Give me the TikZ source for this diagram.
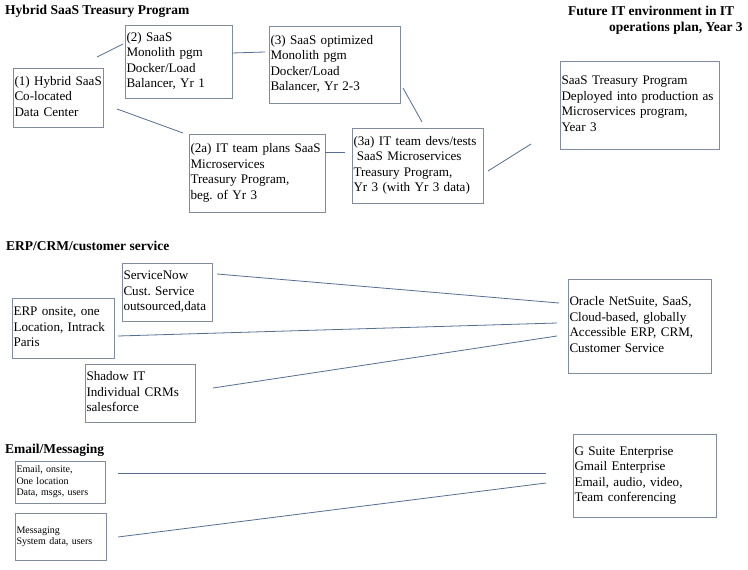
\documentclass[tikz,border=0pt]{standalone}
\usepackage{fontspec}
\setmainfont{Liberation Serif}
\definecolor{boxline}{RGB}{128,140,155}
\definecolor{conn}{RGB}{85,110,145}
\frenchspacing
\begin{document}
\begin{tikzpicture}[x=1pt,y=-1pt,
  box/.style={draw=boxline,line width=0.9pt,fill=white,inner xsep=1.5pt,inner ysep=0pt,
    align=left,font=\fontsize{13.1}{15.5}\selectfont},
  smallbox/.style={box,font=\fontsize{10}{11.5}\selectfont},
  ttl/.style={anchor=base west,inner sep=0pt,font=\fontsize{13.5}{15.5}\selectfont\bfseries},
  link/.style={draw=conn,line width=0.8pt}]
\useasboundingbox[fill=white] (0,0) rectangle (748,570);
\newcommand{\lines}[1]{\begin{tabular}{@{}l@{}}#1\end{tabular}}
\renewcommand{\arraystretch}{1}
% titles
\node[ttl] (tHyb) at (5,15) {Hybrid SaaS Treasury Program};
\node[ttl] (tFut1) at (568,15.5) {Future IT environment in IT};
\node[ttl] (tFut2) at (609,31.5) {operations plan, Year 3};
\node[ttl] (tERP) at (6,250.5) {ERP/CRM/customer service};
\node[ttl] (tEm) at (5,453.5) {Email/Messaging};
% treasury boxes
\node[box,text width=87pt,minimum height=59pt] (b1) at (58,97.5) {\lines{(1) Hybrid SaaS\\Co-located\\Data Center}};
\node[box,text width=104pt,minimum height=73pt] (b2) at (178.5,61.5) {\lines{(2) SaaS\\Monolith pgm\\Docker/Load\\Balancer, Yr 1}};
\node[box,text width=128pt,minimum height=77pt] (b3) at (334.5,64.5) {\lines{(3) SaaS optimized\\Monolith pgm\\Docker/Load\\Balancer, Yr 2-3}};
\node[box,text width=133pt,minimum height=78pt] (b2a) at (257,173) {\lines{(2a) IT team plans SaaS\\Microservices\\Treasury Program,\\beg. of Yr 3}};
\node[box,text width=128pt,minimum height=75pt] (b3a) at (417.5,165.5) {\lines{(3a) IT team devs/tests\\\hspace*{3.3pt}SaaS Microservices\\Treasury Program,\\Yr 3 (with Yr 3 data)}};
\node[box,text width=156pt,minimum height=88pt] (bT) at (639.5,105) {\lines{SaaS Treasury Program\\Deployed into production as\\Microservices program,\\Year 3}};
% ERP boxes
\node[box,text width=87pt,minimum height=58pt] (bSN) at (167,292) {\lines{ServiceNow\\Cust. Service\\outsourced,data}};
\node[box,text width=99pt,minimum height=60pt] (bERP) at (63,328) {\lines{ERP onsite, one\\Location, Intrack\\Paris}};
\node[box,text width=107pt,minimum height=58pt] (bSh) at (140,393) {\lines{Shadow IT\\Individual CRMs\\salesforce}};
\node[box,text width=140pt,minimum height=94pt] (bOr) at (639.5,326) {\lines{Oracle NetSuite, SaaS,\\Cloud-based, globally\\Accessible ERP, CRM,\\Customer Service}};
% Email boxes
\node[smallbox,text width=87pt,minimum height=42pt] (bEm) at (60,482) {\lines{Email, onsite,\\One location\\Data, msgs, users}};
\node[smallbox,text width=88pt,minimum height=47pt] (bMs) at (60.5,536.5) {\lines{Messaging\\System data, users}};
\node[box,text width=140pt,minimum height=83pt] (bG) at (644.5,475.5) {\lines{G Suite Enterprise\\Gmail Enterprise\\Email, audio, video,\\Team conferencing}};
% connector ends
\coordinate (p1a) at (97,57);   \coordinate (p1b) at (123,44);
\coordinate (p2a) at (232,53);  \coordinate (p2b) at (265,52);
\coordinate (p3a) at (117,109); \coordinate (p3b) at (183,133);
\coordinate (p4a) at (325,152); \coordinate (p4b) at (345,152);
\coordinate (p5a) at (403,88);  \coordinate (p5b) at (422,122);
\coordinate (p6a) at (488,171); \coordinate (p6b) at (531,144);
\coordinate (q1a) at (217,274); \coordinate (q1b) at (559,303);
\coordinate (q2a) at (118,336); \coordinate (q2b) at (557,323);
\coordinate (q3a) at (213,388); \coordinate (q3b) at (557,336);
\coordinate (r1a) at (118,473); \coordinate (r1b) at (546,473);
\coordinate (r2a) at (118,537); \coordinate (r2b) at (546,483);
\draw[link] (p1a) -- (p1b);
\draw[link] (p2a) -- (p2b);
\draw[link] (p3a) -- (p3b);
\draw[link] (p4a) -- (p4b);
\draw[link] (p5a) -- (p5b);
\draw[link] (p6a) -- (p6b);
\draw[link] (q1a) -- (q1b);
\draw[link] (q2a) -- (q2b);
\draw[link] (q3a) -- (q3b);
\draw[link] (r1a) -- (r1b);
\draw[link] (r2a) -- (r2b);
\end{tikzpicture}
\end{document}
